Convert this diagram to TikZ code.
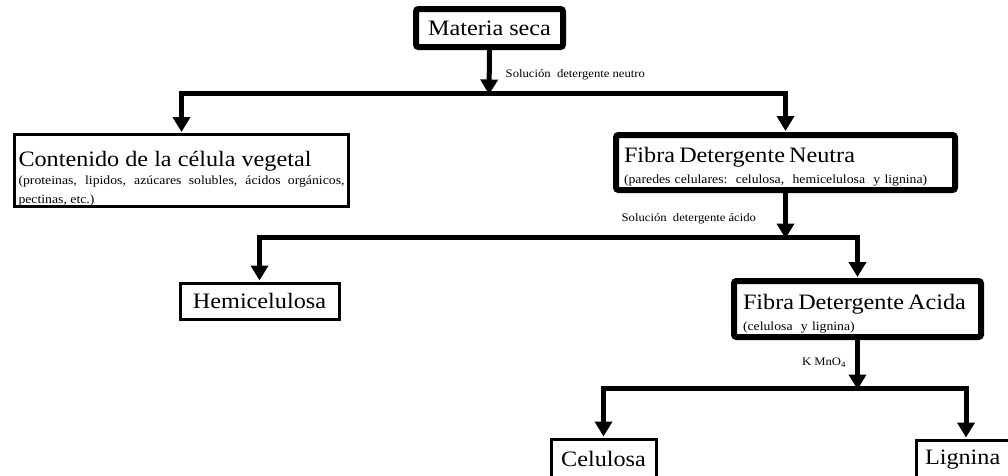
\documentclass[tikz,border=0pt]{standalone}
\usepackage{fontspec}
\setmainfont[FakeStretch=1.1]{Liberation Serif}
\usetikzlibrary{arrows.meta}
\begin{document}
\begin{tikzpicture}[x=1pt,y=-1pt,
  thickbox/.style={draw, line width=6pt, rounded corners=2.5pt, inner ysep=0pt, fill=white},
  thinbox/.style={draw, line width=3pt, inner ysep=0pt, fill=white},
  big/.style={font=\fontsize{22}{26}\selectfont},
  tip/.tip={Triangle[width=17pt,length=15pt]},
  conn/.style={line width=5pt, -tip, shorten >=1pt},
  conntwo/.style={line width=5pt, tip-tip, shorten <=1pt, shorten >=1pt},
  lab/.style={font=\fontsize{11.5}{13}\selectfont, inner sep=0pt}
]
\useasboundingbox (0,0) rectangle (1008,475);
\clip (0,0) rectangle (1008,475);

% boxes
\node[thickbox, minimum width=147pt, minimum height=38pt, inner xsep=0pt, big] (ms) at (489.5,28) {Materia seca};

\node[thinbox, minimum width=334pt, minimum height=72pt, inner xsep=4pt, text width=326pt,
      align=justify, font=\fontsize{12.5}{18.5}\selectfont] (cont) at (181.5,170.5)
  {{\fontsize{22}{26}\selectfont\rule{0pt}{31pt}Contenido de la célula vegetal}\\
   (proteinas, lipidos, azúcares solubles, ácidos orgánicos,\linebreak pectinas, etc.)};

\node[thickbox, minimum width=339pt, minimum height=55pt, inner xsep=8pt, text width=323pt,
      align=left, font=\fontsize{12.5}{21}\selectfont] (fdn) at (785.5,162.5)
  {{\fontsize{22}{26}\selectfont\rule{0pt}{23pt}Fibra Detergente Neutra}\\
   (paredes celulares:\ \ celulosa,\ \ hemicelulosa\ \ y lignina)};

\node[thinbox, minimum width=159pt, minimum height=36pt, inner xsep=0pt, big] (hemi) at (259.5,301) {Hemicelulosa};

\node[thickbox, minimum width=247pt, minimum height=56pt, inner xsep=9pt, text width=229pt,
      align=left, font=\fontsize{12.5}{21}\selectfont] (fda) at (857.5,309)
  {{\fontsize{22}{26}\selectfont\rule{0pt}{24pt}Fibra Detergente Acida}\\
   (celulosa\ \ y lignina)};

\node[thinbox, minimum width=105pt, minimum height=40pt, inner xsep=0pt, big] (cel) at (603.5,459) {Celulosa};
\node[thinbox, minimum width=100pt, minimum height=40pt, inner xsep=9pt, text width=82pt, align=left, big] (lig) at (966,460) {Lignina};

% branch coordinates
\coordinate (b1) at (489,93);
\coordinate (b2) at (785.5,237);
\coordinate (b3) at (857.5,388);

% connectors
\draw[conn] (ms.south) -- ([yshift=-2.5pt]b1)
  node[lab, pos=0.55, right=14pt] (l1) {Solución\ \ detergente neutro};
\draw[conntwo] (cont.north) |- (b1) -| (fdn.north);

\draw[conn] (fdn.south) -- ([yshift=-2.5pt]b2)
  node[lab, pos=0.55, left=27pt] (l2) {Solución\ \ detergente ácido};
\draw[conntwo] (hemi.north) |- (b2) -| (fda.north);

\draw[conn] (fda.south) -- ([yshift=-2.5pt]b3)
  node[lab, pos=0.45, left=9pt] (l3) {K MnO\textsubscript{4}};
\draw[conntwo] (cel.north) |- (b3) -| (lig.north);
\end{tikzpicture}
\end{document}
